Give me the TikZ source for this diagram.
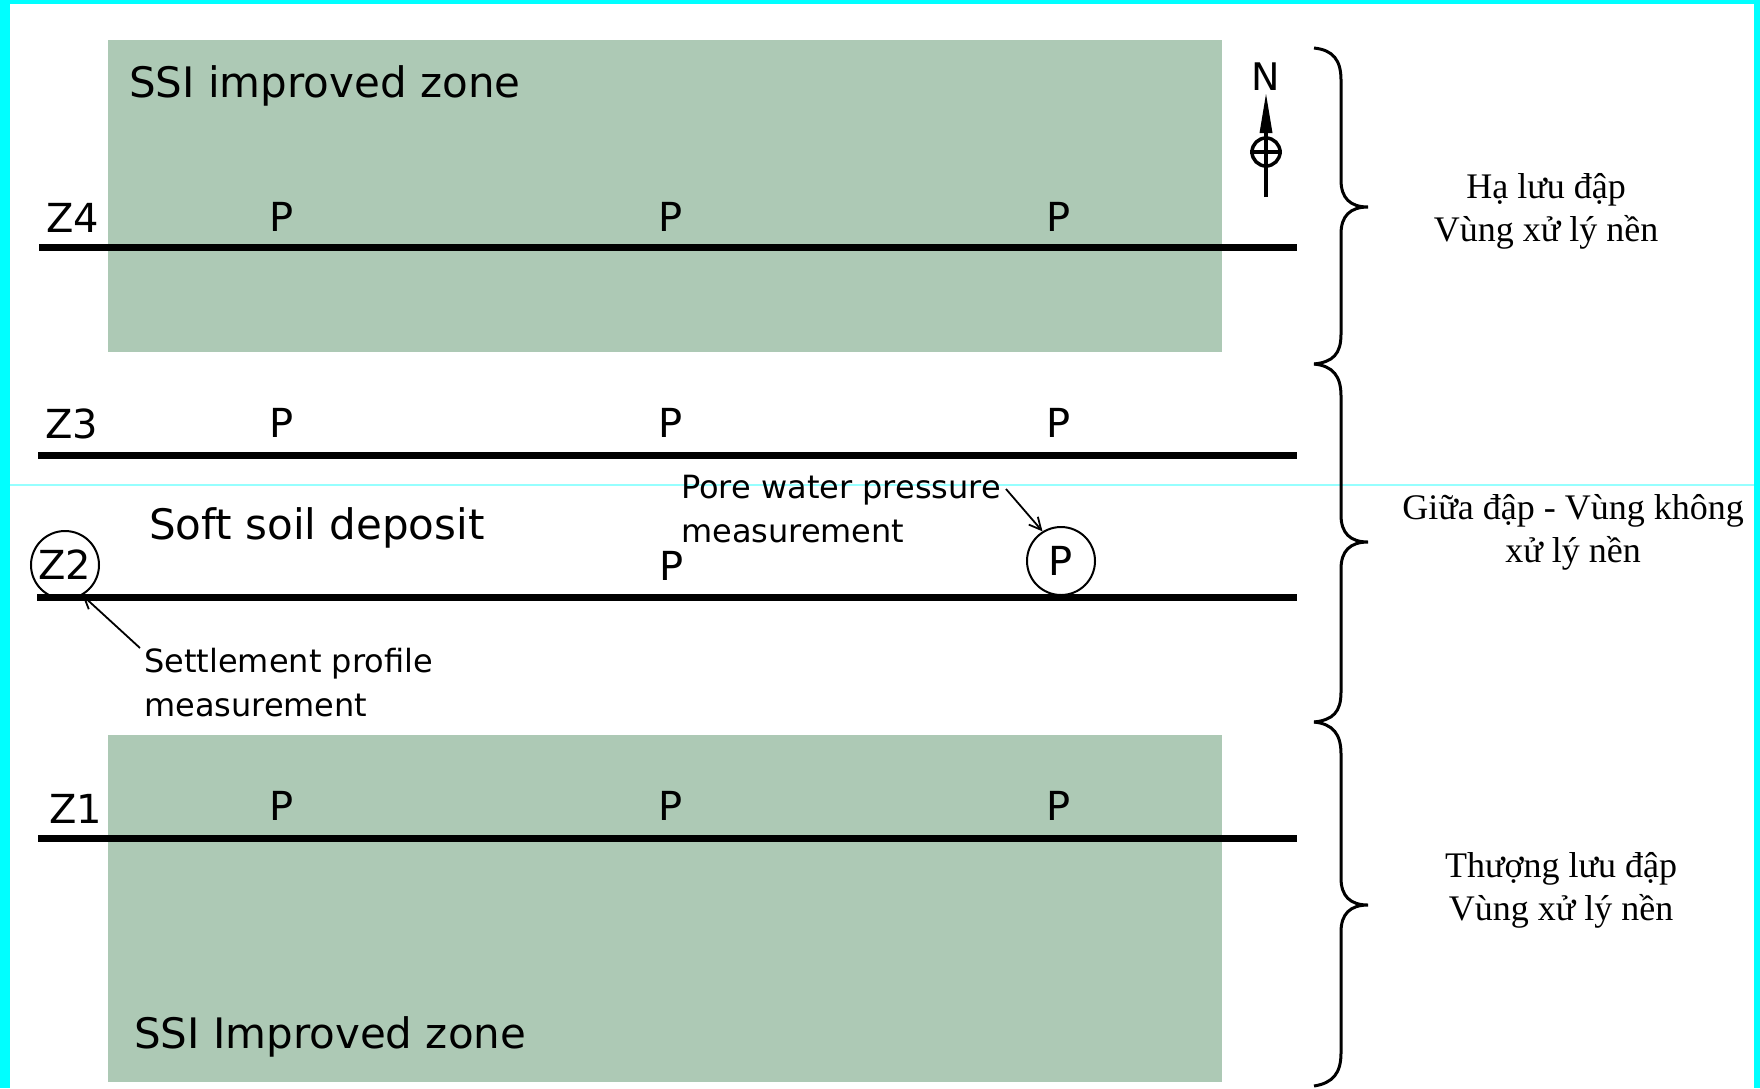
\documentclass[tikz,border=0pt]{standalone}
\usepackage{fontspec}
\setmainfont{Liberation Serif}
\newfontfamily\dejasans{DejaVu Sans}
\usetikzlibrary{arrows.meta}
\definecolor{zonegreen}{RGB}{173,201,181}
\definecolor{bordercyan}{RGB}{0,255,255}
\definecolor{faintcyan}{RGB}{150,255,255}
\tikzset{
  zone/.style={fill=zonegreen, draw=none},
  zline/.style={line width=7pt},
  plabel/.style={font=\dejasans\fontsize{40}{48}\selectfont, anchor=base, inner sep=0pt},
  zlabel/.style={font=\dejasans\fontsize{40}{48}\selectfont, anchor=base west, inner sep=0pt},
  bigtext/.style={font=\dejasans\fontsize{42}{50}\selectfont, anchor=base west, inner sep=0pt},
  note/.style={font=\dejasans\fontsize{32}{44}\selectfont, anchor=base west, inner sep=0pt},
  viet/.style={font=\fontsize{36}{44}\selectfont, anchor=base, inner sep=0pt},
  ring/.style={draw, circle, line width=2pt, minimum size=68pt, inner sep=0pt, font=\dejasans\fontsize{40}{48}\selectfont},
  callout/.style={line width=1.8pt, -{Straight Barb[length=12pt,width=12pt]}},
  brace/.style={line width=3pt},
}
\begin{document}
\begin{tikzpicture}[x=1pt,y=-1pt]
\useasboundingbox (0,0) rectangle (1760,1088);
\fill[white] (0,0) rectangle (1760,1088);
% faint guide line
\draw[faintcyan, line width=1.2pt] (0,485) -- (1760,485);
% cyan frame
\fill[bordercyan] (0,0) rectangle (10,1088);
\fill[bordercyan] (0,0) rectangle (1760,4);
\fill[bordercyan] (1754,0) rectangle (1760,1088);
% improved zones
\fill[zone] (108,40) rectangle (1222,352);
\fill[zone] (108,735) rectangle (1222,1082);
% settlement lines
\draw[zline] (39,247) -- (1297,247);
\draw[zline] (38,455) -- (1297,455);
\draw[zline] (37,597) -- (1297,597);
\draw[zline] (38,838) -- (1297,838);
% zone texts
\node[bigtext] (topzone) at (129,97) {SSI improved zone};
\node[bigtext] (botzone) at (134,1048) {SSI Improved zone};
\node[bigtext] (soft) at (149,539) {Soft soil deposit};
% line labels
\node[zlabel] (z4) at (46,232) {Z4};
\node[zlabel] (z3) at (45,438) {Z3};
\node[zlabel] (z1) at (49,823) {Z1};
\node[ring] (z2) at (65,565) {Z2};
% P markers
\node[plabel] (p4a) at (282,231) {P};
\node[plabel] (p4b) at (671,231) {P};
\node[plabel] (p4c) at (1059,231) {P};
\node[plabel] (p3a) at (282,437) {P};
\node[plabel] (p3b) at (671,437) {P};
\node[plabel] (p3c) at (1059,437) {P};
\node[plabel] (p2b) at (672,580) {P};
\node[ring] (pc) at (1061,561) {P};
\node[plabel] (p1a) at (282,820) {P};
\node[plabel] (p1b) at (671,820) {P};
\node[plabel] (p1c) at (1059,820) {P};
% notes
\node[note] (pore1) at (681,498) {Pore water pressure};
\node[note] (pore2) at (681,542) {measurement};
\node[note] (sett1) at (144,672) {Settlement profile};
\node[note] (sett2) at (144,716) {measurement};
\coordinate (pfrom) at (1006,489);
\coordinate (sfrom) at (140,648);
\draw[callout] (pfrom) -- (pc.122);
\draw[callout] (sfrom) -- (z2.-60);
% compass
\node[font=\dejasans\fontsize{38}{40}\selectfont, anchor=base, inner sep=0pt] (north) at (1266,90) {N};
\draw[line width=4pt] (1266,197) -- (1266,122);
\fill (1266,94) -- (1259.5,133) -- (1272.5,133) -- cycle;
\draw[line width=3.5pt] (1266,152) circle[radius=14pt];
\draw[line width=3.5pt] (1250,152) -- (1282,152);
% braces
\draw[brace] (1314,48) .. controls (1333,50) and (1341,60) .. (1341,80) -- (1341,180)
  .. controls (1341,198) and (1350,207) .. (1368,207)
  .. controls (1350,207) and (1341,216) .. (1341,234) -- (1341,334)
  .. controls (1341,354) and (1333,362) .. (1314,364);
\draw[brace] (1314,364) .. controls (1333,366) and (1341,376) .. (1341,396) -- (1341,515)
  .. controls (1341,533) and (1350,542) .. (1368,542)
  .. controls (1350,542) and (1341,551) .. (1341,569) -- (1341,692)
  .. controls (1341,712) and (1333,720) .. (1314,722);
\draw[brace] (1314,722) .. controls (1333,724) and (1341,734) .. (1341,754) -- (1341,878)
  .. controls (1341,896) and (1350,905) .. (1368,905)
  .. controls (1350,905) and (1341,914) .. (1341,932) -- (1341,1053)
  .. controls (1341,1073) and (1333,1083) .. (1314,1086);
% Vietnamese labels
\node[viet] (ha1) at (1546,198) {Hạ lưu đập};
\node[viet] (ha2) at (1546,241) {Vùng xử lý nền};
\node[viet] (gi1) at (1573,519) {Giữa đập - Vùng không};
\node[viet] (gi2) at (1573,562) {xử lý nền};
\node[viet] (th1) at (1561,877) {Thượng lưu đập};
\node[viet] (th2) at (1561,920) {Vùng xử lý nền};
\end{tikzpicture}
\end{document}
